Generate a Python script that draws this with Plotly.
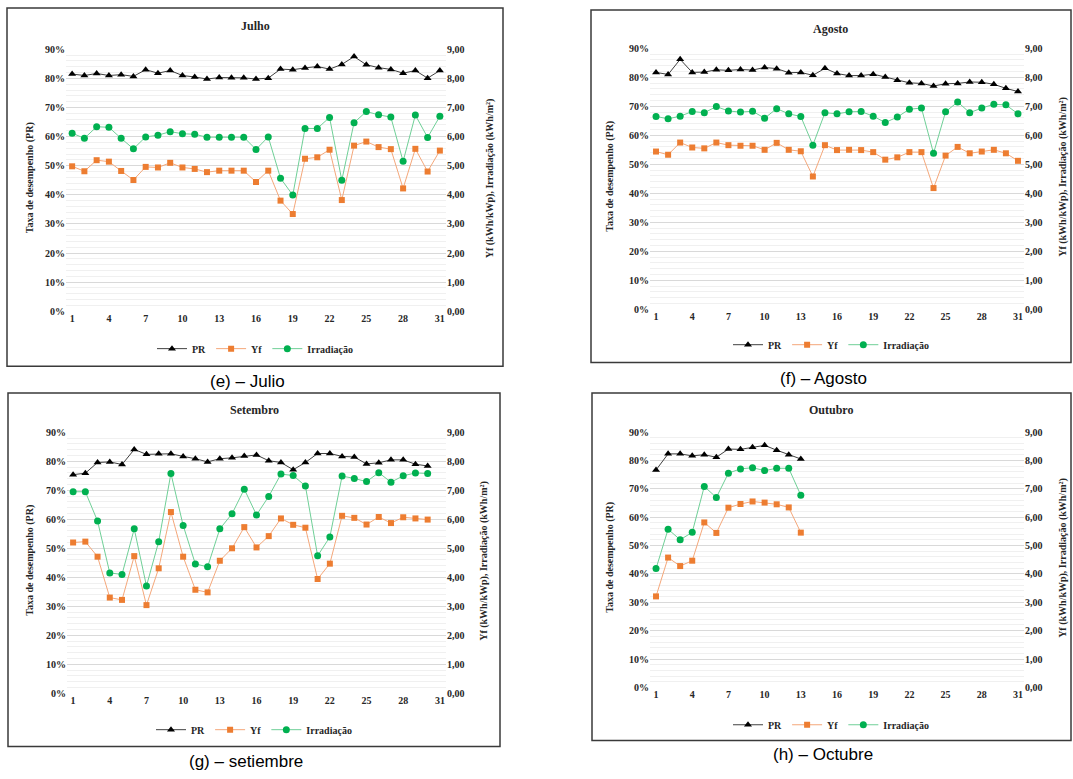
import plotly.graph_objects as go

# ---------------- data ----------------
days_jul = list(range(1, 32))
pr_jul = [81.5, 81.0, 81.7, 81.0, 81.3, 80.7, 83.0, 81.8, 82.7, 81.0, 80.5, 79.8, 80.3, 80.2, 80.2, 79.8,
          80.1, 83.2, 83.0, 83.6, 84.1, 83.2, 84.8, 87.5, 84.7, 83.7, 83.1, 81.8, 82.7, 80.1, 82.7]
yf_jul = [4.98, 4.81, 5.19, 5.14, 4.82, 4.51, 4.96, 4.94, 5.10, 4.94, 4.89, 4.78, 4.83, 4.83, 4.83, 4.44,
          4.83, 3.80, 3.34, 5.24, 5.29, 5.55, 3.82, 5.69, 5.83, 5.64, 5.57, 4.22, 5.58, 4.80, 5.52]
irr_jul = [6.12, 5.94, 6.34, 6.32, 5.94, 5.58, 5.99, 6.05, 6.17, 6.10, 6.08, 5.98, 5.98, 5.98, 5.98, 5.56,
           5.99, 4.57, 3.99, 6.28, 6.28, 6.66, 4.50, 6.48, 6.86, 6.75, 6.67, 5.15, 6.74, 5.97, 6.70]

days_ago = list(range(1, 32))
pr_ago = [81.7, 81.0, 86.2, 81.7, 81.8, 82.6, 82.4, 82.7, 82.5, 83.4, 83.0, 81.6, 81.7, 80.7, 83.1, 81.3,
          80.6, 80.6, 81.1, 80.1, 79.0, 78.1, 77.9, 77.0, 77.8, 77.9, 78.4, 78.3, 77.6, 76.2, 75.1]
yf_ago = [5.44, 5.33, 5.75, 5.58, 5.55, 5.75, 5.66, 5.64, 5.64, 5.50, 5.74, 5.50, 5.45, 4.58, 5.66, 5.49,
          5.50, 5.49, 5.42, 5.16, 5.24, 5.42, 5.42, 4.18, 5.30, 5.60, 5.38, 5.44, 5.50, 5.38, 5.12]
irr_ago = [6.65, 6.57, 6.66, 6.82, 6.78, 6.99, 6.84, 6.80, 6.83, 6.59, 6.92, 6.74, 6.65, 5.66, 6.78, 6.74,
           6.81, 6.82, 6.66, 6.44, 6.63, 6.90, 6.94, 5.38, 6.81, 7.15, 6.78, 6.94, 7.07, 7.05, 6.74]

days_set = list(range(1, 31))
pr_set = [75.4, 75.9, 79.6, 79.8, 78.9, 84.1, 82.4, 82.6, 82.6, 81.7, 80.9, 79.8, 80.9, 81.2, 81.8, 82.2,
          80.2, 79.6, 77.1, 79.6, 82.7, 82.7, 81.7, 81.5, 79.1, 79.5, 80.5, 80.5, 79.0, 78.4]
yf_set = [5.20, 5.23, 4.71, 3.30, 3.22, 4.73, 3.04, 4.31, 6.25, 4.71, 3.57, 3.48, 4.57, 5.00, 5.73, 5.03,
          5.42, 6.03, 5.81, 5.71, 3.94, 4.47, 6.12, 6.05, 5.82, 6.08, 5.87, 6.07, 6.03, 5.99]
irr_set = [6.95, 6.95, 5.94, 4.15, 4.10, 5.67, 3.70, 5.23, 7.58, 5.79, 4.46, 4.36, 5.67, 6.19, 7.04, 6.15,
           6.79, 7.56, 7.51, 7.15, 4.74, 5.39, 7.49, 7.41, 7.30, 7.61, 7.28, 7.50, 7.60, 7.58]

days_out = list(range(1, 14))
pr_out = [76.7, 82.4, 82.4, 81.7, 82.1, 81.2, 84.1, 84.0, 84.7, 85.4, 83.7, 82.1, 80.6]
yf_out = [3.21, 4.58, 4.28, 4.47, 5.82, 5.45, 6.34, 6.47, 6.56, 6.52, 6.46, 6.35, 5.46]
irr_out = [4.19, 5.58, 5.21, 5.47, 7.09, 6.70, 7.56, 7.71, 7.75, 7.65, 7.73, 7.73, 6.78]

x_ticks = [1, 4, 7, 10, 13, 16, 19, 22, 25, 28, 31]
pr_ticks = [0, 10, 20, 30, 40, 50, 60, 70, 80, 90]
pr_tick_labels = ["0%", "10%", "20%", "30%", "40%", "50%", "60%", "70%", "80%", "90%"]
right_ticks = [0, 1, 2, 3, 4, 5, 6, 7, 8, 9]
right_tick_labels = ["0,00", "1,00", "2,00", "3,00", "4,00", "5,00", "6,00", "7,00", "8,00", "9,00"]

titles = ["Julho", "Agosto", "Setembro", "Outubro"]
captions = ["(e) – Julio", "(f) – Agosto", "(g) – setiembre", "(h) – Octubre"]
series_names = ["PR", "Yf", "Irradiação"]
left_title = "Taxa de desempenho (PR)"
right_title = "Yf (kWh/kWp), Irradiação (kWh/m²)"

datasets = [
    (days_jul, pr_jul, yf_jul, irr_jul),
    (days_ago, pr_ago, yf_ago, irr_ago),
    (days_set, pr_set, yf_set, irr_set),
    (days_out, pr_out, yf_out, irr_out),
]

# ---------------- layout geometry (pixels) ----------------
W, H = 1073, 779
def X(px):
    return px / W
def Y(py):
    return 1 - py / H

panels = [
    dict(plot=(66, 446, 44, 310), box=(7, 2, 503, 366), title_y=20, legend_y=348, cap_y=381,
         center=255, ltitle_x=30, rtitle_x=490),
    dict(plot=(650, 1024, 43, 308), box=(591, 4, 1071, 362), title_y=23, legend_y=344, cap_y=378,
         center=831, ltitle_x=610, rtitle_x=1063),
    dict(plot=(67, 446, 433, 698), box=(8, 393, 500, 752), title_y=410, legend_y=735, cap_y=767,
         center=254, ltitle_x=30, rtitle_x=484),
    dict(plot=(650, 1024, 433, 692), box=(592, 393, 1071, 746), title_y=410, legend_y=730, cap_y=760,
         center=831, ltitle_x=610, rtitle_x=1063),
]

SERIF = "Liberation Serif, Times New Roman, serif"
TXT = "#262626"
fig = go.Figure()
layout = dict(width=W, height=H, autosize=False, margin=dict(l=0, r=0, t=0, b=0),
              paper_bgcolor="white", plot_bgcolor="white",
              showlegend=True, font=dict(family=SERIF, color=TXT))
annotations = []
shapes = []

for i, (p, d) in enumerate(zip(panels, datasets)):
    days, pr, yf, irr = d
    xa = "x" if i == 0 else f"x{i+1}"
    yl = f"y{2*i+1}" if i > 0 else "y"
    yr = f"y{2*i+2}"
    lg = "legend" if i == 0 else f"legend{i+1}"
    l, r, t, b = p["plot"]

    fig.add_trace(go.Scatter(x=days, y=pr, name=series_names[0], xaxis=xa, yaxis=yl, legend=lg,
                             mode="lines+markers", line=dict(color="#404040", width=1),
                             marker=dict(symbol="triangle-up", size=7, color="black"),
                             cliponaxis=False))
    fig.add_trace(go.Scatter(x=days, y=yf, name=series_names[1], xaxis=xa, yaxis=yr, legend=lg,
                             mode="lines+markers", line=dict(color="#F4A77A", width=1),
                             marker=dict(symbol="square", size=6, color="#ED7D31"),
                             cliponaxis=False))
    fig.add_trace(go.Scatter(x=days, y=irr, name=series_names[2], xaxis=xa, yaxis=yr, legend=lg,
                             mode="lines+markers", line=dict(color="#6FCF97", width=1),
                             marker=dict(symbol="circle", size=7, color="#00B050"),
                             cliponaxis=False))

    xkey = "xaxis" if i == 0 else f"xaxis{i+1}"
    ylkey = "yaxis" if i == 0 else f"yaxis{2*i+1}"
    yrkey = f"yaxis{2*i+2}"
    layout[xkey] = dict(domain=[X(l), X(r)], anchor=yl, range=[0.5, 31.5], tickmode="array",
                        tickvals=x_ticks, showgrid=False, zeroline=False, showline=False,
                        ticks="", tickfont=dict(family=SERIF, size=10, color=TXT, weight="bold"))
    layout[ylkey] = dict(domain=[Y(b), Y(t)], anchor=xa, range=[0, 90], tickmode="array",
                         tickvals=pr_ticks, ticktext=pr_tick_labels, showgrid=True,
                         gridcolor="#D9D9D9", gridwidth=1, zeroline=False, showline=False, ticks="",
                         minor=dict(dtick=2, showgrid=True, gridcolor="#F0F0F0", gridwidth=1),
                         tickfont=dict(family=SERIF, size=10, color=TXT, weight="bold"))
    layout[yrkey] = dict(overlaying=yl, anchor=xa, side="right", range=[0, 9], tickmode="array",
                         tickvals=right_ticks, ticktext=right_tick_labels, showgrid=False,
                         zeroline=False, showline=False, ticks="",
                         tickfont=dict(family=SERIF, size=10, color=TXT, weight="bold"))
    layout[lg] = dict(x=X(p["center"]), y=Y(p["legend_y"]), xanchor="center", yanchor="middle",
                      orientation="h", bgcolor="rgba(0,0,0,0)", itemwidth=30,
                      font=dict(family=SERIF, size=10, color=TXT, weight="bold"))

    bx0, by0, bx1, by1 = p["box"]
    shapes.append(dict(type="rect", xref="paper", yref="paper", x0=X(bx0), x1=X(bx1),
                       y0=Y(by1), y1=Y(by0), line=dict(color="#3A3A3A", width=1.5),
                       fillcolor="rgba(0,0,0,0)"))
    annotations.append(dict(text=titles[i], x=X(p["center"]), y=Y(p["title_y"]), xref="paper",
                            yref="paper", showarrow=False, xanchor="center", yanchor="middle",
                            font=dict(family=SERIF, size=12, color=TXT, weight="bold")))
    annotations.append(dict(text=captions[i], x=X(p["center"] - 8), y=Y(p["cap_y"]), xref="paper",
                            yref="paper", showarrow=False, xanchor="center", yanchor="middle",
                            font=dict(family="Liberation Sans, Arial, sans-serif", size=17,
                                      color="black")))
    annotations.append(dict(text=left_title, x=X(p["ltitle_x"]), y=Y((t + b) / 2 - 2), xref="paper",
                            yref="paper", showarrow=False, textangle=-90, xanchor="center",
                            yanchor="middle",
                            font=dict(family=SERIF, size=10, color=TXT, weight="bold")))
    annotations.append(dict(text=right_title, x=X(p["rtitle_x"]), y=Y((t + b) / 2 - 2), xref="paper",
                            yref="paper", showarrow=False, textangle=-90, xanchor="center",
                            yanchor="middle",
                            font=dict(family=SERIF, size=10, color=TXT, weight="bold")))

layout["annotations"] = annotations
layout["shapes"] = shapes
fig.update_layout(**layout)
fig.write_html("out.html")
